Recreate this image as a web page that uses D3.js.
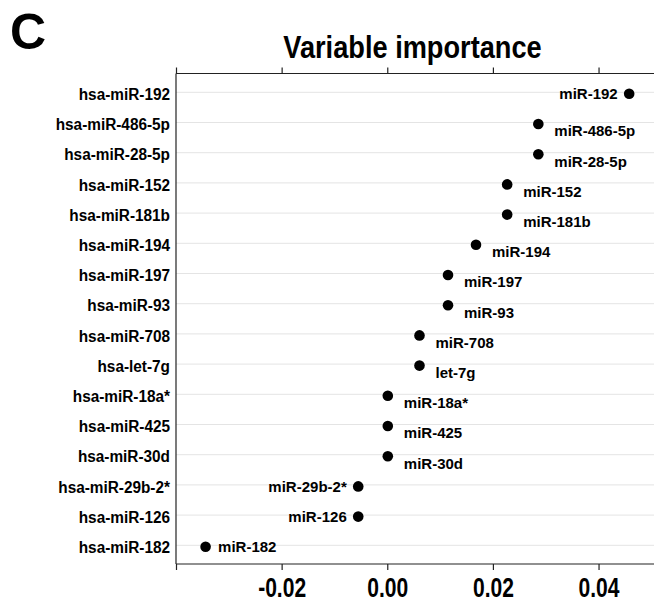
<!DOCTYPE html>
<html>
<head>
<meta charset="utf-8">
<script src="https://cdn.jsdelivr.net/npm/d3@7/dist/d3.min.js"></script>
<style>
  html, body { margin: 0; padding: 0; background: #fff; }
  svg { display: block; }
  text { font-family: "Liberation Sans", Arial, Helvetica, sans-serif; font-weight: bold; fill: #000; }
</style>
</head>
<body>
<svg id="chart" width="654" height="601"></svg>
<script>
// ---- data ----
const categories = [
  "hsa-miR-192", "hsa-miR-486-5p", "hsa-miR-28-5p", "hsa-miR-152", "hsa-miR-181b",
  "hsa-miR-194", "hsa-miR-197", "hsa-miR-93", "hsa-miR-708", "hsa-let-7g",
  "hsa-miR-18a*", "hsa-miR-425", "hsa-miR-30d", "hsa-miR-29b-2*", "hsa-miR-126", "hsa-miR-182"
];
const importance = [
  0.0458, 0.0286, 0.0286, 0.0227, 0.0227,
  0.0168, 0.0115, 0.0115, 0.0061, 0.0061,
  0.0001, 0.0001, 0.0001, -0.0055, -0.0055, -0.0344
];
// label side for each point: l = left, r = right, rb = right & slightly below
const labelSide = ["l","rb","rb","rb","rb","rb","rb","rb","rb","rb","rb","rb","rb","l","l","r"];
const xTicks = [-0.04, -0.02, 0.00, 0.02, 0.04];
const xTickLabels = ["", "-0.02", "0.00", "0.02", "0.04"];
const title = "Variable importance";
const panelLetter = "C";

// ---- layout ----
const svg = d3.select("#chart");
const plotL = 176, plotR = 654, plotT = 73.5, plotB = 564;

const x = d3.scaleLinear().domain([-0.04, 0.0505]).range([plotL, plotR]);
const y = d3.scalePoint().domain(categories).range([92.3, 545.3]);

const data = categories.map((c, i) => ({
  cat: c, value: importance[i], label: c.replace(/^hsa-/, ""), side: labelSide[i]
}));

// gridlines
svg.append("g").selectAll("line").data(categories).join("line")
  .attr("x1", plotL).attr("x2", plotR)
  .attr("y1", d => y(d)).attr("y2", d => y(d))
  .attr("stroke", "#e4e4e4").attr("stroke-width", 1);

// top axis (ticks, no labels)
const topAxis = svg.append("g").attr("transform", `translate(0,${plotT})`)
  .call(d3.axisTop(x).tickValues(xTicks).tickSize(6).tickFormat(""));
// bottom axis
const botAxis = svg.append("g").attr("transform", `translate(0,${plotB})`)
  .call(d3.axisBottom(x).tickValues(xTicks).tickSize(6).tickFormat((d, i) => xTickLabels[i]));
[topAxis, botAxis].forEach(g => {
  g.select(".domain").attr("stroke", "#222").attr("stroke-width", 1.2)
    .attr("d", `M${plotL},0H${plotR}`);
  g.selectAll(".tick line").attr("stroke", "#222").attr("stroke-width", 1.2);
});
botAxis.selectAll(".tick text")
  .attr("y", 0).attr("dy", 0)
  .attr("font-size", 27)
  .attr("font-family", '"Liberation Sans", Arial, sans-serif')
  .attr("font-weight", "bold")
  .attr("fill", "#000")
  .attr("transform", "translate(0,32.5) scale(0.78,1)");

// left frame line
svg.append("line").attr("x1", plotL).attr("x2", plotL).attr("y1", plotT).attr("y2", plotB)
  .attr("stroke", "#222").attr("stroke-width", 1.2);

// row labels
svg.append("g").selectAll("text").data(categories).join("text")
  .attr("transform", d => `translate(170,${y(d) + 7.7}) scale(0.96,1)`)
  .attr("text-anchor", "end")
  .attr("font-size", 16)
  .text(d => d);

// points
svg.append("g").selectAll("circle").data(data).join("circle")
  .attr("cx", d => x(d.value)).attr("cy", d => y(d.cat) + 1.5)
  .attr("r", 5.3).attr("fill", "#000");

// point labels
svg.append("g").selectAll("text").data(data).join("text")
  .attr("x", d => d.side === "l" ? x(d.value) - 11.5 : (d.side === "r" ? x(d.value) + 12.5 : x(d.value) + 16))
  .attr("y", d => y(d.cat) + 1.5 + (d.side === "rb" ? 7 : 0))
  .attr("dy", "0.36em")
  .attr("text-anchor", d => d.side === "l" ? "end" : "start")
  .attr("font-size", 15)
  .text(d => d.label);

// title
svg.append("text")
  .attr("transform", "translate(412.5,58) scale(0.85,1)")
  .attr("text-anchor", "middle")
  .attr("font-size", 32)
  .text(title);

// panel letter
svg.append("text")
  .attr("x", 10).attr("y", 49.3)
  .attr("font-size", 50)
  .text(panelLetter);
</script>
</body>
</html>
